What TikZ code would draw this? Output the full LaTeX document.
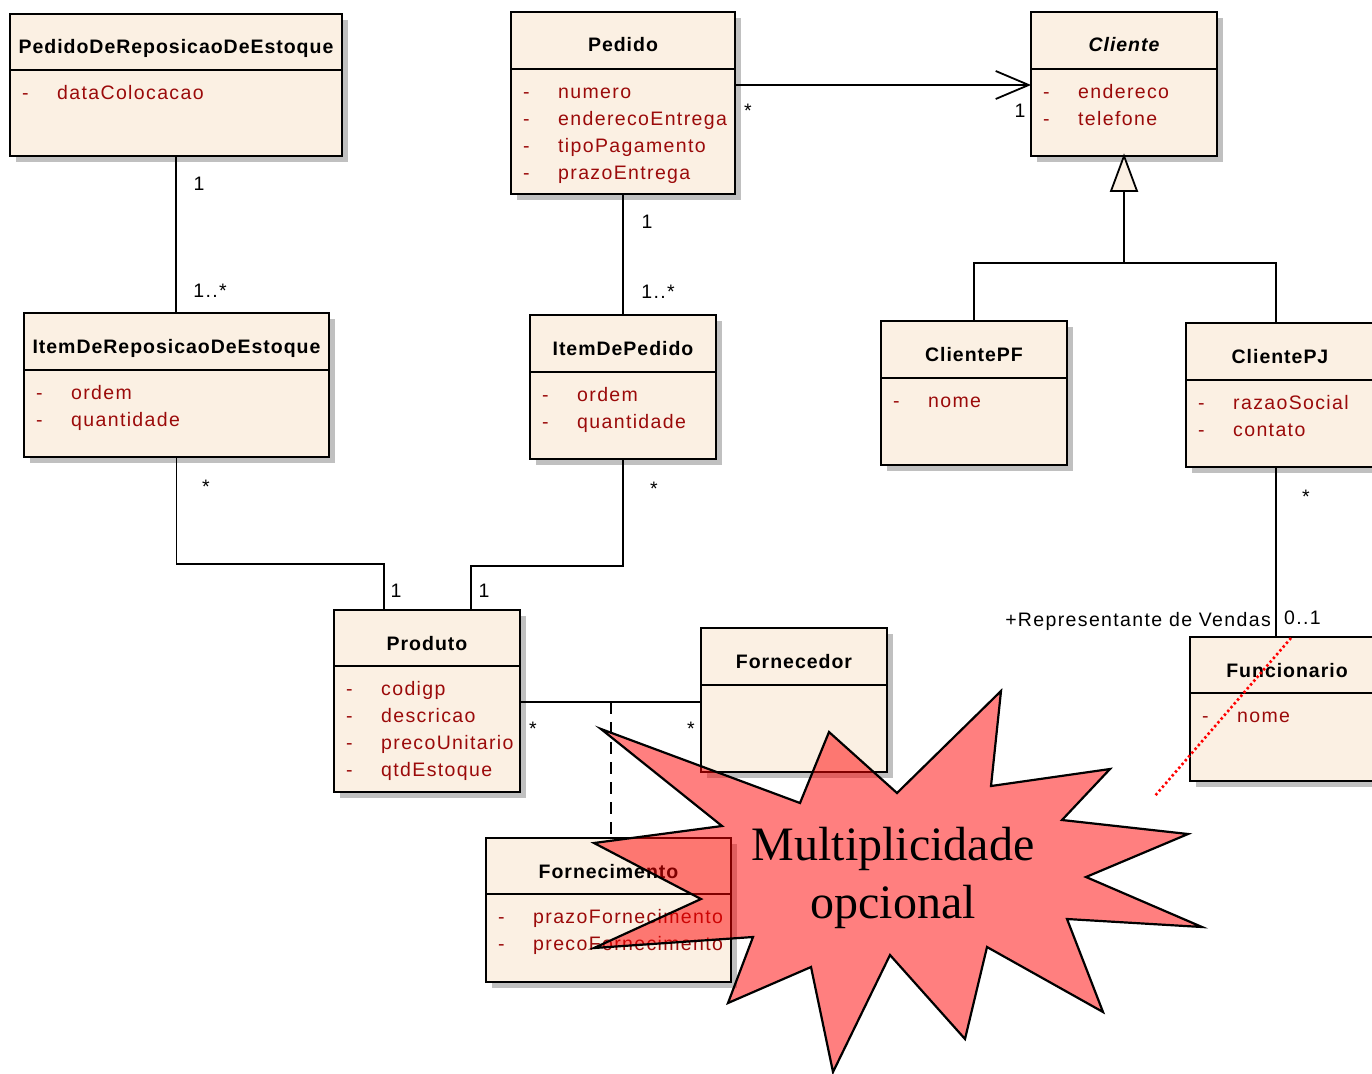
\documentclass[tikz,border=0pt]{standalone}
\usepackage{fontspec}
\setmainfont{Liberation Sans}
\newfontfamily\umlfont[LetterSpace=7]{Liberation Sans}
\newfontfamily\umltitlefont[LetterSpace=5]{Liberation Sans}
\newfontfamily\notefont{Liberation Serif}
\usetikzlibrary{calc,arrows.meta}

\definecolor{classfill}{RGB}{251,240,227}
\definecolor{classshadow}{RGB}{192,192,192}
\definecolor{attrred}{RGB}{155,10,10}

\tikzset{
  classbox/.style={draw=black, line width=2.2pt, fill=classfill, inner sep=0pt, outer sep=0pt},
  boxline/.style={line width=2.2pt},
  classtitle/.style={font=\umltitlefont\fontsize{19.5}{23}\selectfont\bfseries, inner sep=0pt, anchor=base},
  attrtext/.style={font=\umlfont\fontsize{19.5}{23}\selectfont, text=attrred, inner sep=0pt, anchor=base west},
  multlabel/.style={font=\umlfont\fontsize{19.5}{23}\selectfont, inner sep=0pt, anchor=base},
  assoc/.style={line width=1.8pt},
  linkdash/.style={line width=1.8pt, dash pattern=on 12pt off 8pt},
  burst/.style={draw=black, line width=2.2pt, fill=red, fill opacity=0.5, line join=miter},
  notetext/.style={font=\notefont\fontsize{48}{58}\selectfont, inner sep=0pt, anchor=base},
  reddots/.style={draw=red, line width=2.6pt, dash pattern=on 2.4pt off 2.6pt},
}

% class box: name, left, top, width, height, header height, title
\newcommand\umlclass[7]{%
  \fill[classshadow] ({#2+6},{#3+6}) rectangle ({#2+#4+6},{#3+#5+6});
  \node[classbox, minimum width=#4pt, minimum height=#5pt, anchor=north west] (#1) at (#2,#3) {};
  \draw[boxline] ($(#1.north west)+(0,#6)$) -- ($(#1.north east)+(0,#6)$);
  \node[classtitle] (#1-title) at ($(#1.north)+(0,40)$) {#7};
}
% attribute row: class, row, header height, text
\newcommand\umlattr[4]{%
  \node[attrtext] (#1-vis#2) at ($(#1.north west)+(12,{#3+29+27*(#2-1)})$) {-};
  \node[attrtext] (#1-attr#2) at ($(#1.north west)+(47,{#3+29+27*(#2-1)})$) {#4};
}

\begin{document}
\begin{tikzpicture}[x=1pt, y=-1pt]
\useasboundingbox (0,0) rectangle (1372,1073);

% classes
\umlclass{prde}{10}{14}{332}{142}{56}{PedidoDeReposicaoDeEstoque}
\umlattr{prde}{1}{56}{dataColocacao}

\umlclass{pedido}{511}{12}{224}{182}{57}{Pedido}
\umlattr{pedido}{1}{57}{numero}
\umlattr{pedido}{2}{57}{enderecoEntrega}
\umlattr{pedido}{3}{57}{tipoPagamento}
\umlattr{pedido}{4}{57}{prazoEntrega}

\umlclass{cliente}{1031}{12}{186}{144}{57}{\itshape Cliente}
\umlattr{cliente}{1}{57}{endereco}
\umlattr{cliente}{2}{57}{telefone}

\umlclass{itemrep}{24}{313}{305}{144}{57}{ItemDeReposicaoDeEstoque}
\umlattr{itemrep}{1}{57}{ordem}
\umlattr{itemrep}{2}{57}{quantidade}

\umlclass{itemped}{530}{315}{186}{144}{57}{ItemDePedido}
\umlattr{itemped}{1}{57}{ordem}
\umlattr{itemped}{2}{57}{quantidade}

\umlclass{clientepf}{881}{321}{186}{144}{57}{ClientePF}
\umlattr{clientepf}{1}{57}{nome}

\umlclass{clientepj}{1186}{323}{188}{144}{57}{ClientePJ}
\umlattr{clientepj}{1}{57}{razaoSocial}
\umlattr{clientepj}{2}{57}{contato}

\umlclass{produto}{334}{610}{186}{182}{56}{Produto}
\umlattr{produto}{1}{56}{codigp}
\umlattr{produto}{2}{56}{descricao}
\umlattr{produto}{3}{56}{precoUnitario}
\umlattr{produto}{4}{56}{qtdEstoque}

\umlclass{fornecedor}{701}{628}{186}{144}{57}{Fornecedor}

\umlclass{fornecimento}{486}{838}{245}{144}{56}{Fornecimento}
\umlattr{fornecimento}{1}{56}{prazoFornecimento}
\umlattr{fornecimento}{2}{56}{precoFornecimento}

\umlclass{funcionario}{1190}{637}{194}{144}{56}{Funcionario}
\umlattr{funcionario}{1}{56}{nome}

% associations
\draw[assoc] (prde.south) -- (prde.south |- itemrep.north);
\draw[assoc] (pedido.south) -- (pedido.south |- itemped.north);

\coordinate (pedcli) at ($(pedido.north east)+(0,73)$);
\draw[assoc, -{Straight Barb[length=33pt, width=28pt]}] (pedcli) -- (pedcli -| cliente.west);

% generalization
\coordinate (genbase) at ($(cliente.south)+(0,35)$);
\coordinate (genbar) at ($(cliente.south)+(0,107)$);
\coordinate (pjtop) at ($(clientepj.north west)+(90,0)$);
\draw[assoc] (genbase) -- (genbar);
\draw[assoc] (clientepf.north) |- (genbar) -| (pjtop);
\draw[assoc, fill=classfill, line join=miter] (cliente.south) -- ++(-13,35) -- ++(26,0) -- cycle;

% items to product
\coordinate (repbend) at ($(itemrep.south)+(0,107)$);
\coordinate (prodleft) at ($(produto.north west)+(50,0)$);
\draw[assoc] (itemrep.south) -- (repbend) -| (prodleft);
\coordinate (pedbend) at ($(itemped.south)+(0,107)$);
\coordinate (prodright) at ($(produto.north west)+(137,0)$);
\draw[assoc] (itemped.south) -- (pedbend) -| (prodright);

% produto - fornecedor with association class
\coordinate (pf) at ($(produto.north east)+(0,92)$);
\draw[assoc] (pf) -- (pf -| fornecedor.west);
\coordinate (pfmid) at ($(produto.north east)+(91,92)$);
\draw[linkdash] (pfmid) -- (pfmid |- fornecimento.north);

% clientepj - funcionario
\coordinate (pjbot) at ($(clientepj.south west)+(90,0)$);
\draw[assoc] (pjbot) -- (pjbot |- funcionario.north);

% multiplicities and roles
\node[multlabel] (m1) at (199,190) {1};
\node[multlabel] (m2) at (210,297) {1..*};
\node[multlabel] (m3) at (647,228) {1};
\node[multlabel] (m4) at (658,298) {1..*};
\node[multlabel] (m5) at (748,117) {*};
\node[multlabel] (m6) at (1020,117) {1};
\node[multlabel] (m7) at (206,493) {*};
\node[multlabel] (m8) at (396,597) {1};
\node[multlabel] (m9) at (654,495) {*};
\node[multlabel] (m10) at (484,597) {1};
\node[multlabel] (m11) at (533,735) {*};
\node[multlabel] (m12) at (691,735) {*};
\node[multlabel] (m13) at (1306,503) {*};
\node[multlabel, anchor=base east] (role) at (1271,626) {+Representante de Vendas};
\node[multlabel, anchor=base west] (m14) at (1284,624) {0..1};

% callout
\draw[burst] (601,729) -- (800,803) -- (829,732) -- (897,793) -- (1001,691) -- (991,786)
  -- (1110,769) -- (1062,820) -- (1188,834) -- (1086,877) -- (1202,927) -- (1067,919)
  -- (1103,1012) -- (987,947) -- (965,1039) -- (890,955) -- (833,1072) -- (811,967)
  -- (728,1003) -- (753,937) -- (594,948) -- (701,899) -- (594,843) -- (722,826) -- cycle;
\node[notetext] (note1) at (893,860) {Multiplicidade};
\node[notetext] (note2) at (893,918) {opcional};

% red dotted stroke
\coordinate (dotA) at (1291,638);
\coordinate (dotB) at (1154,797);
\draw[reddots] (dotA) -- (dotB);
\end{tikzpicture}
\end{document}
